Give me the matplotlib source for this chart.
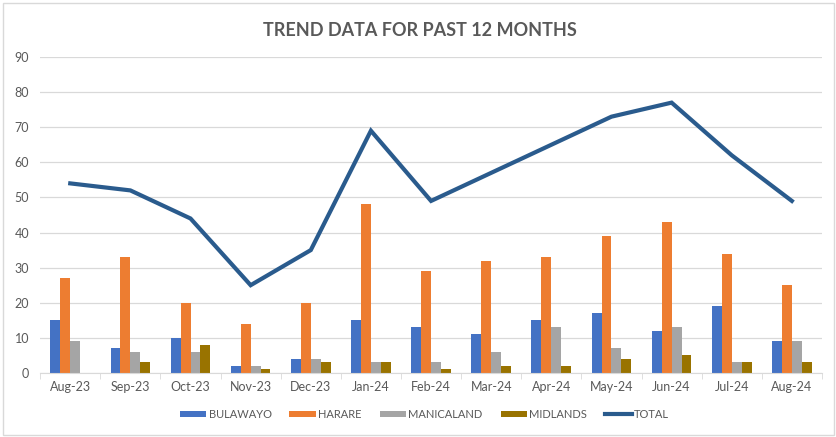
import matplotlib.pyplot as plt
import numpy as np

months = ['Aug-23', 'Sep-23', 'Oct-23', 'Nov-23', 'Dec-23', 'Jan-24', 'Feb-24',
          'Mar-24', 'Apr-24', 'May-24', 'Jun-24', 'Jul-24', 'Aug-24']
bulawayo = [15, 7, 10, 2, 4, 15, 13, 11, 15, 17, 12, 19, 9]
harare = [27, 33, 20, 14, 20, 48, 29, 32, 33, 39, 43, 34, 25]
manicaland = [9, 6, 6, 2, 4, 3, 3, 6, 13, 7, 13, 3, 9]
midlands = [0, 3, 8, 1, 3, 3, 1, 2, 2, 4, 5, 3, 3]
total = [54, 52, 44, 25, 35, 69, 49, 57, 65, 73, 77, 62, 49]

plt.rcParams['font.family'] = ['Lato', 'DejaVu Sans']
TXT = '#595959'

fig = plt.figure(figsize=(8.37, 4.37), dpi=100)
ax = fig.add_axes([0.048, 0.1465, 0.934, 0.7231])

x = np.arange(len(months))
w = 0.165
series = [
    (bulawayo, 'BULAWAYO', '#4472C4'),
    (harare, 'HARARE', '#ED7D31'),
    (manicaland, 'MANICALAND', '#A5A5A5'),
    (midlands, 'MIDLANDS', '#997300'),
]
handles = []
for i, (vals, name, col) in enumerate(series):
    b = ax.bar(x + (i - 1.5) * w, vals, w, color=col, label=name, zorder=2)
    handles.append(b)

ln, = ax.plot(x, total, color='#2A5B8D', lw=3, label='TOTAL', zorder=3,
              solid_joinstyle='miter')
handles.append(ln)

ax.set_xlim(-0.5, len(months) - 0.5)
ax.set_ylim(0, 90)
ax.set_yticks(range(0, 91, 10))
ax.set_xticks(x)
ax.set_xticklabels(months)
ax.set_xticks(np.arange(-0.5, len(months), 1), minor=True)
ax.tick_params(axis='x', which='major', length=0, colors=TXT, labelsize=9, pad=6)
ax.tick_params(axis='x', which='minor', length=4, color='#D9D9D9')
ax.tick_params(axis='y', length=0, colors=TXT, labelsize=9, pad=8)
ax.grid(axis='y', color='#D9D9D9', lw=0.9, zorder=0)
for s in ['top', 'right', 'left']:
    ax.spines[s].set_visible(False)
ax.spines['bottom'].set_color('#D9D9D9')

fig.text(0.502, 0.93, 'TREND DATA FOR PAST 12 MONTHS', ha='center', va='center',
         fontsize=13, fontweight='bold', color=TXT)

leg = fig.legend(handles=handles, loc='center', bbox_to_anchor=(0.507, 0.052),
                 ncol=5, frameon=False, fontsize=8, handlelength=2.4,
                 handleheight=0.5, columnspacing=1.6, handletextpad=0.2)
for t in leg.get_texts():
    t.set_color(TXT)

fig.patches.append(plt.Rectangle((0.003, 0.004), 0.994, 0.99, transform=fig.transFigure,
                                 fill=False, ec='#D9D9D9', lw=1))

fig.savefig('out.png', dpi=100)
